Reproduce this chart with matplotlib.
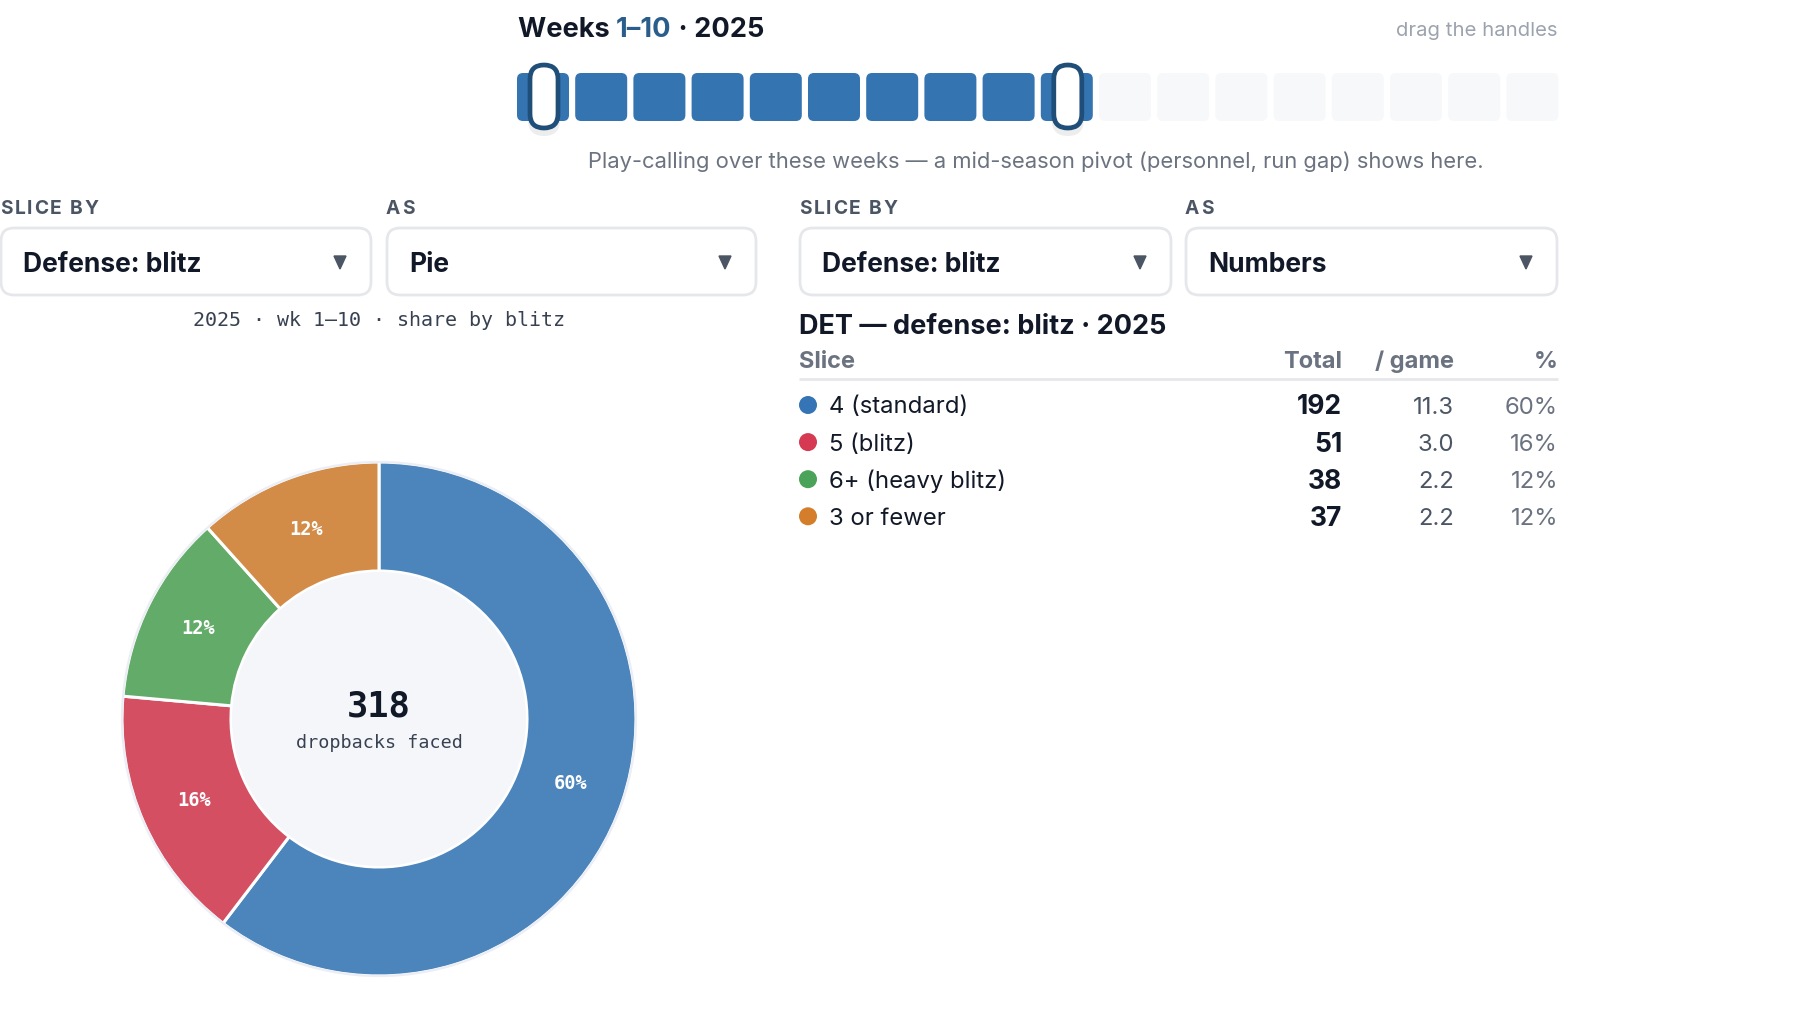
import matplotlib
matplotlib.use("Agg")
import matplotlib.pyplot as plt
from matplotlib.patches import FancyBboxPatch, Circle, Polygon
import numpy as np

# ---------------- data ----------------
weeks = list(range(1, 19))
week_start, week_end = 1, 10
season = 2025
team = "DET"
slice_labels = ["4 (standard)", "5 (blitz)", "6+ (heavy blitz)", "3 or fewer"]
slice_totals = [192, 51, 38, 37]
slice_per_game = [11.3, 3.0, 2.2, 2.2]
pie_colors = ["#4b85bc", "#d54f63", "#63ab68", "#d28c47"]
dot_colors = ["#3575b5", "#d63a52", "#4aa358", "#d47e2c"]
slice_by = "Defense: blitz"
as_left = "Pie"
as_right = "Numbers"

W, H = 1816, 1028
fig = plt.figure(figsize=(W / 100, H / 100), dpi=100)
ax = fig.add_axes([0, 0, 1, 1])
ax.set_xlim(0, W)
ax.set_ylim(H, 0)
ax.axis("off")

SANS = ["Inter", "DejaVu Sans"]
MONO = ["DejaVu Sans Mono"]
DARK = "#111827"
GRAY = "#6b7280"
LGRAY = "#9ca3af"
LABEL = "#4b5563"
BLUE_T = "#2b5d8c"
DY = 2.5  # small vertical nudge for centred sans text

renderer = fig.canvas.get_renderer()


def seq_text(x, y, parts, size, weight="bold", va="baseline"):
    """draw consecutive text segments with different colours"""
    inv = ax.transData.inverted()
    for s, c in parts:
        t = ax.text(x, y, s, fontsize=size, fontweight=weight, color=c,
                    family=SANS, va=va, ha="left")
        bb = t.get_window_extent(renderer=renderer)
        x = inv.transform((bb.x1, bb.y0))[0]


def spaced(x, y, s, size, color, spacing):
    inv = ax.transData.inverted()
    for ch in s:
        t = ax.text(x, y, ch, fontsize=size, fontweight="bold", color=color,
                    family=SANS, va="center", ha="left")
        bb = t.get_window_extent(renderer=renderer)
        x = inv.transform((bb.x1, bb.y0))[0] + spacing


# ---------------- week strip ----------------
seq_text(518, 37, [("Weeks ", DARK), (f"{week_start}\u2013{week_end}", BLUE_T),
                   (f" \u00b7 {season}", DARK)], 19.6)
ax.text(1557, 29 + DY, "drag the handles", fontsize=14.6, color=LGRAY, family=SANS,
        ha="right", va="center")

x0, pitch, cw = 517, 58.2, 52
cy0, cy1 = 73, 121
for w in weeks:
    xl = x0 + (w - 1) * pitch
    sel = week_start <= w <= week_end
    ax.add_patch(FancyBboxPatch((xl, cy0), cw, cy1 - cy0,
                                boxstyle="round,pad=0,rounding_size=6",
                                fc="#3474b0" if sel else "#f7f8fa", ec="none", zorder=2))
for w in (week_start, week_end):
    cx = x0 + (w - 1) * pitch + cw / 2 + 1
    # shadow
    ax.add_patch(FancyBboxPatch((cx - 16, 70), 32, 66,
                                boxstyle="round,pad=0,rounding_size=16",
                                fc="#000000", alpha=0.07, ec="none", zorder=3))
    ax.add_patch(FancyBboxPatch((cx - 14, 65), 28, 63,
                                boxstyle="round,pad=0,rounding_size=14",
                                fc="white", ec="#1f4e79", lw=3.4, zorder=4))

ax.text(1036, 159 + DY, "Play-calling over these weeks \u2014 a mid-season pivot (personnel, run gap) shows here.",
        fontsize=15.8, color=GRAY, family=SANS, ha="center", va="center")

# ---------------- controls ----------------
def dropdown(xl, xr, label, value):
    spaced(xl, 207 + DY, label, 13.8, LABEL, 1.8)
    ax.add_patch(FancyBboxPatch((xl + 1, 228), xr - xl - 2, 67,
                                boxstyle="round,pad=0,rounding_size=13",
                                fc="white", ec="#e5e7eb", lw=2, zorder=2))
    ax.text(xl + 23, 262 + DY, value, fontsize=19, fontweight="bold", color=DARK,
            family=SANS, ha="left", va="center", zorder=3)
    tx = xr - 32
    ax.add_patch(Polygon([[tx - 6, 256], [tx + 6, 256], [tx, 269]], closed=True,
                         fc="#4b5563", ec="#4b5563", lw=1, zorder=3))

dropdown(0, 372, "SLICE BY", slice_by)
dropdown(386, 757, "AS", as_left)
dropdown(799, 1172, "SLICE BY", slice_by)
dropdown(1185, 1558, "AS", as_right)

# ---------------- pie ----------------
ax.text(379, 320, f"{season} \u00b7 wk {week_start}\u2013{week_end} \u00b7 share by blitz",
        fontsize=14.4, color="#374151", family=MONO, ha="center", va="center")

pcx, pcy, R, r_in = 379, 719, 257, 148
pax = fig.add_axes([(pcx - R - 4) / W, 1 - (pcy + R + 4) / H, (2 * R + 8) / W, (2 * R + 8) / H])
lim = (R + 4) / R
total = sum(slice_totals)
wedges, _ = pax.pie(slice_totals, colors=pie_colors, startangle=90, counterclock=False,
                    radius=1, wedgeprops=dict(width=1 - r_in / R, edgecolor="white", linewidth=2.2))
pax.set_xlim(-lim, lim)
pax.set_ylim(-lim, lim)
pax.set_aspect("equal")
pax.axis("off")
pax.add_patch(Circle((0, 0), 1, fc="none", ec="#eceef5", lw=1.6, zorder=5))
pax.add_patch(Circle((0, 0), r_in / R - 0.004, fc="#f5f6fa", ec="none", zorder=4))
rm = (1 + r_in / R) / 2
for wdg, v in zip(wedges, slice_totals):
    a = np.deg2rad((wdg.theta1 + wdg.theta2) / 2)
    pax.text(rm * np.cos(a), rm * np.sin(a), f"{round(v / total * 100)}%", fontsize=13.4,
             fontweight="bold", color="white", family=MONO, ha="center", va="center", zorder=6)
pax.text(0, 0.05, f"{total}", fontsize=25.5, fontweight="bold", color=DARK, family=MONO,
         ha="center", va="center", zorder=6)
pax.text(0, -0.095, "dropbacks faced", fontsize=13.2, color="#374151", family=MONO,
         ha="center", va="center", zorder=6)

# ---------------- table ----------------
ax.text(799, 324 + DY, f"{team} \u2014 defense: blitz \u00b7 {season}", fontsize=19.5, fontweight="bold",
        color=DARK, family=SANS, ha="left", va="center")
hy = 359 + DY
cols = [1342, 1454, 1558]
ax.text(799, hy, "Slice", fontsize=17, fontweight="bold", color=GRAY, family=SANS, va="center")
ax.text(cols[0], hy, "Total", fontsize=17, fontweight="bold", color=GRAY, family=SANS, va="center", ha="right")
ax.text(cols[1], hy, "/ game", fontsize=17, fontweight="bold", color=GRAY, family=SANS, va="center", ha="right")
ax.text(cols[2], hy, "%", fontsize=17, fontweight="bold", color=GRAY, family=SANS, va="center", ha="right")
ax.plot([799, 1558], [379, 379], color="#e5e7eb", lw=2, solid_capstyle="butt")

row_y0, row_dy = 405, 37.1
for i, (lab, tot, pg, col) in enumerate(zip(slice_labels, slice_totals, slice_per_game, dot_colors)):
    y = row_y0 + i * row_dy
    ax.add_patch(Circle((808, y), 9, fc=col, ec="none"))
    ax.text(829, y + DY, lab, fontsize=17.2, color=DARK, family=SANS, va="center", ha="left")
    ax.text(cols[0], y + DY, f"{tot}", fontsize=19, fontweight="bold", color=DARK, family=SANS, va="center", ha="right")
    ax.text(cols[1], y + DY, f"{pg:.1f}", fontsize=17.2, color="#4b5563", family=SANS, va="center", ha="right")
    ax.text(cols[2], y + DY, f"{round(tot / total * 100)}%", fontsize=17.2, color=GRAY, family=SANS, va="center", ha="right")

fig.savefig("out.png", dpi=100, facecolor="white")
